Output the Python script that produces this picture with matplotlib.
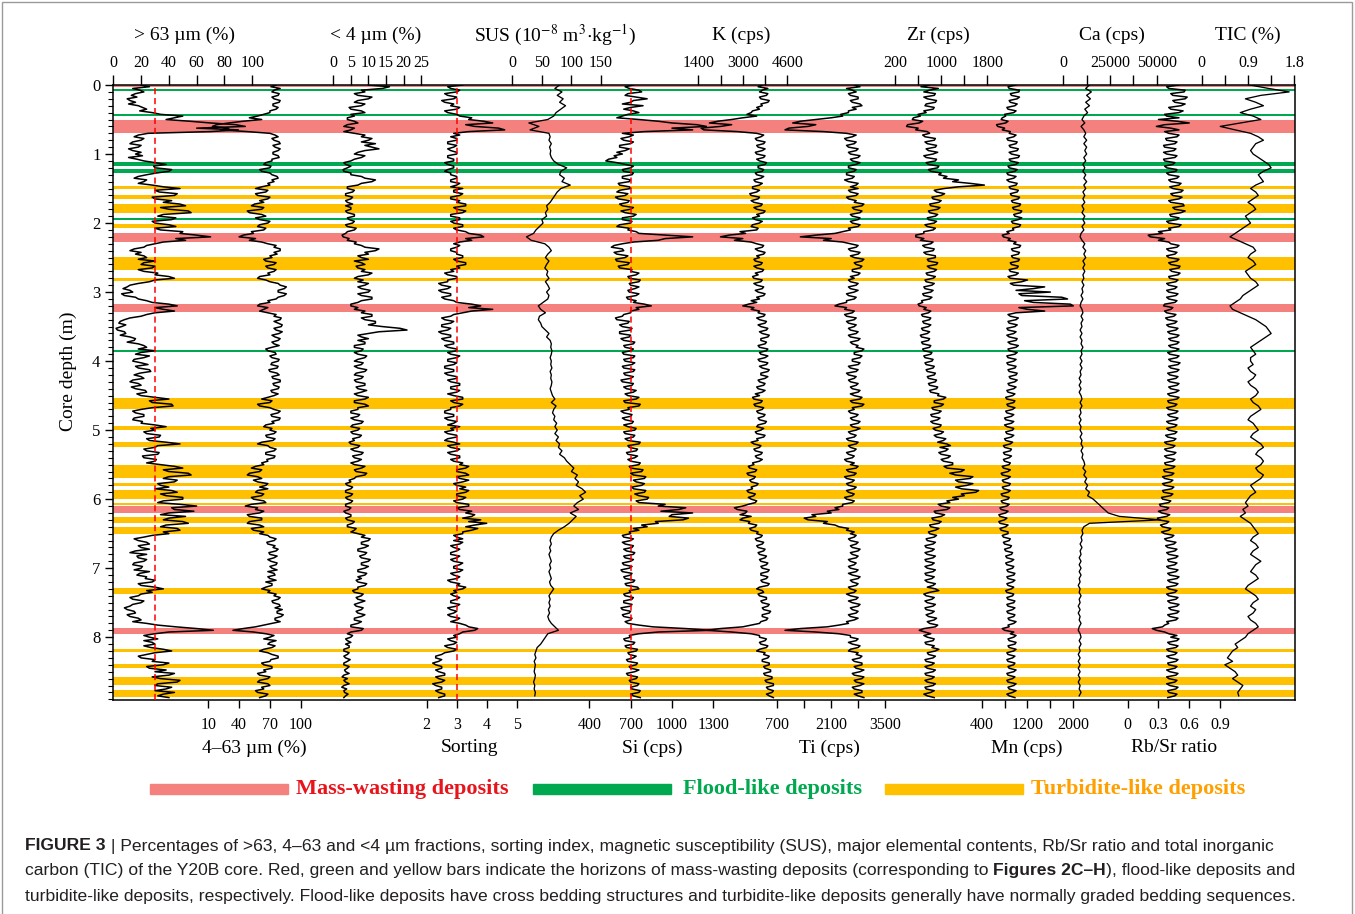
import numpy as np
import matplotlib.pyplot as plt
from matplotlib.patches import Rectangle
from matplotlib.ticker import MultipleLocator

plt.rcParams['font.family'] = ['Liberation Serif', 'DejaVu Serif']
plt.rcParams['mathtext.fontset'] = 'stix'

# core depth (m): XRF / grain-size every 2.5 cm, SUS / Ca / TIC every 5 cm
depth_fine = np.round(np.arange(356) * 0.025, 3)
depth_coarse = np.round(np.arange(178) * 0.05, 2)

sand_pct = [20, 26, 14, 19, 22, 16, 13, 17, 10, 12, 16, 11, 18, 21, 24, 19, 28, 34, 50, 44,
            38, 55, 70, 88, 95, 60, 90, 70, 25, 18, 15, 22, 20, 14, 12, 20, 18, 11, 14, 20,
            16, 21, 11, 17, 22, 30, 38, 29, 30, 42, 40, 31, 24, 18, 15, 24, 22, 18, 28, 36,
            48, 30, 33, 46, 44, 28, 30, 42, 36, 48, 52, 34, 40, 54, 56, 36, 32, 45, 42, 28,
            30, 40, 45, 30, 34, 50, 48, 60, 70, 45, 52, 36, 30, 24, 22, 15, 12, 20, 16, 22,
            24, 18, 30, 22, 20, 30, 28, 18, 22, 32, 30, 40, 44, 30, 26, 18, 12, 10, 7, 12,
            14, 6, 8, 16, 18, 24, 28, 40, 46, 30, 36, 44, 30, 24, 20, 12, 8, 5, 4, 9,
            6, 2, 3, 8, 9, 5, 12, 16, 15, 10, 18, 22, 24, 18, 30, 20, 16, 26, 22, 15,
            14, 20, 25, 16, 18, 26, 27, 19, 15, 20, 22, 14, 12, 18, 20, 13, 16, 23, 24, 17,
            20, 30, 40, 26, 28, 42, 43, 28, 20, 14, 16, 22, 22, 15, 14, 21, 20, 30, 38, 27,
            30, 22, 24, 34, 33, 24, 26, 38, 48, 32, 30, 22, 24, 33, 32, 21, 22, 31, 30, 24,
            34, 44, 50, 36, 40, 54, 56, 40, 36, 46, 44, 32, 34, 40, 30, 42, 46, 34, 38, 50,
            50, 36, 32, 48, 60, 42, 44, 58, 40, 34, 52, 40, 36, 50, 54, 38, 34, 46, 48, 36,
            40, 28, 22, 15, 18, 24, 26, 18, 20, 26, 16, 12, 24, 17, 18, 24, 22, 15, 14, 21,
            20, 15, 26, 19, 17, 24, 23, 30, 28, 18, 20, 30, 36, 24, 28, 20, 18, 12, 14, 22,
            20, 14, 12, 8, 10, 15, 16, 10, 12, 18, 20, 14, 24, 32, 45, 60, 72, 40, 30, 22,
            26, 32, 22, 28, 30, 22, 27, 36, 42, 30, 24, 18, 20, 30, 28, 40, 36, 24, 26, 38,
            30, 44, 40, 28, 34, 48, 46, 32, 30, 42, 38, 30, 44, 36, 32, 40]

silt_pct = [76, 71, 80, 74, 72, 79, 78, 72, 74, 80, 79, 73, 73, 78, 76, 70, 70, 64, 58, 50,
            62, 44, 30, 18, 14, 30, 22, 48, 70, 75, 78, 72, 74, 79, 80, 73, 75, 80, 78, 73,
            73, 78, 79, 72, 72, 66, 64, 71, 70, 60, 62, 70, 72, 77, 78, 72, 74, 68, 70, 62,
            56, 68, 66, 56, 58, 70, 68, 60, 64, 55, 52, 64, 62, 48, 50, 62, 66, 56, 60, 70,
            68, 60, 58, 66, 64, 52, 54, 44, 40, 56, 50, 62, 68, 76, 74, 80, 80, 74, 77, 70,
            72, 64, 66, 76, 74, 66, 68, 76, 74, 68, 70, 60, 58, 66, 70, 78, 80, 86, 84, 78,
            78, 86, 84, 78, 76, 68, 70, 60, 58, 68, 64, 60, 68, 76, 74, 81, 80, 74, 78, 82,
            81, 74, 76, 82, 79, 72, 75, 80, 78, 72, 74, 79, 72, 66, 68, 75, 76, 70, 72, 79,
            78, 72, 71, 78, 77, 69, 70, 77, 79, 72, 73, 80, 80, 73, 74, 79, 78, 71, 72, 78,
            74, 68, 62, 72, 70, 58, 60, 70, 74, 80, 78, 71, 72, 80, 79, 72, 74, 66, 64, 72,
            70, 76, 74, 66, 67, 75, 73, 62, 58, 68, 70, 76, 74, 66, 66, 75, 74, 67, 68, 62,
            64, 56, 52, 62, 60, 50, 48, 58, 62, 54, 58, 68, 66, 60, 68, 58, 56, 64, 62, 52,
            54, 64, 66, 52, 46, 58, 56, 64, 60, 48, 50, 62, 62, 50, 48, 60, 64, 52, 54, 64,
            60, 68, 70, 76, 74, 67, 68, 75, 73, 78, 76, 69, 70, 77, 74, 68, 71, 77, 76, 70,
            72, 77, 68, 74, 75, 68, 70, 76, 66, 72, 72, 66, 62, 70, 68, 76, 74, 80, 78, 72,
            73, 79, 80, 75, 82, 77, 77, 83, 81, 75, 75, 80, 72, 64, 56, 44, 34, 54, 66, 74,
            70, 64, 76, 70, 68, 75, 72, 64, 60, 68, 72, 78, 78, 71, 70, 62, 64, 72, 72, 64,
            66, 58, 60, 70, 68, 60, 58, 68, 70, 62, 64, 56, 58, 68, 66, 60]

clay_pct = [10, 16, 14, 8, 9, 6, 7, 11, 10, 7, 6, 9, 8, 4.5, 5, 8, 9, 5, 6, 4,
            4, 6, 7, 4, 3, 6, 5, 3, 6, 9, 8, 11, 10, 8, 12, 9, 11, 13, 9, 7,
            6, 9, 8, 6, 5, 3, 3.5, 5, 4, 2.8, 3, 5, 5, 8, 9, 12, 11, 8, 7, 4,
            4, 6, 5.5, 3.5, 3.5, 5.5, 5, 3.5, 4, 5.5, 3.5, 5, 5, 3.5, 4, 6, 6, 4, 4.5, 6,
            5.5, 3.5, 4, 6.5, 6, 4, 3.5, 2.5, 2.8, 4.5, 4, 6.5, 6, 8, 9, 13, 12, 9, 10, 7,
            8, 10, 6, 8, 9, 6.5, 7, 9, 8, 11, 10, 7, 6, 8.5, 7, 10, 9, 7, 8, 10.5,
            10, 7, 8, 11, 11, 8, 7, 5, 5, 7, 6, 9, 8, 11, 11, 8, 9, 12, 12, 10,
            14, 19, 21, 13, 10, 7, 8, 10, 7, 9, 9, 6, 6, 8.5, 8, 6, 7, 9.5, 9, 7,
            6, 8.5, 8, 6, 7, 9.5, 9, 6.5, 6, 8.5, 8, 6, 6.5, 9, 9, 6.5, 7, 9.5, 8, 6,
            7, 10, 9, 6, 6, 9, 10, 7, 7, 5, 5, 7.5, 7, 5, 6, 8.5, 8, 5.5, 5, 7.5,
            7, 5, 5.5, 8, 7.5, 5.5, 6, 4.5, 5, 7.5, 7, 5, 6, 8.5, 8, 5.5, 6, 8, 7, 5,
            6, 9, 8, 6, 6.5, 9.5, 9, 6.5, 6, 4.5, 5, 3.5, 4, 5.5, 5, 3.5, 3.5, 5.5, 5, 3.5,
            4, 5.5, 5, 3.5, 3.5, 5, 4.5, 3, 3.5, 5, 5, 3.5, 4, 6, 5.5, 4, 4, 6.5, 6, 5,
            7, 9, 8, 10.5, 10, 8, 8, 10, 9, 7, 7, 9.5, 9, 7.5, 8, 10.5, 10, 8, 8, 10,
            9, 7, 7, 9.5, 9, 7, 8, 6.5, 7, 9.5, 9, 7, 7, 5.5, 6, 8.5, 8, 6.5, 7, 9,
            7.5, 6, 6.5, 8.5, 8, 6.5, 7, 9, 8, 6, 6, 8, 7, 5, 5, 8.5, 8, 5, 4, 5.5,
            5, 3.5, 4, 5, 3.5, 4.5, 4.5, 3, 3, 4.5, 4, 3, 3.5, 4.8, 4, 3, 3, 4.5, 4, 3.2,
            3.5, 4.5, 3, 2.5, 4, 3, 3.5, 4.5, 3, 2.4, 3.8, 3, 3.2, 4.2, 3.5, 3]

sorting = [3.2, 2.7, 2.8, 3.1, 3.0, 2.6, 2.7, 3.0, 2.9, 2.5, 2.6, 2.9, 2.8, 3.1, 3.0, 2.6, 2.7, 3.0, 3.1, 3.5,
           3.4, 3.9, 4.2, 3.3, 3.6, 4.4, 4.6, 3.4, 2.9, 3.1, 2.8, 3.0, 3.0, 2.7, 2.7, 3.0, 2.9, 2.7, 2.8, 3.0,
           3.0, 2.7, 2.7, 2.9, 2.9, 2.6, 2.7, 2.9, 2.9, 2.7, 2.6, 2.8, 2.8, 3.0, 3.0, 2.8, 2.8, 3.1, 3.0, 2.8,
           3.2, 2.9, 2.9, 3.2, 3.1, 2.8, 2.8, 3.1, 3.0, 3.3, 3.3, 2.9, 3.0, 3.3, 3.2, 2.8, 2.8, 3.1, 3.1, 2.8,
           2.9, 3.2, 3.2, 2.9, 3.0, 3.3, 3.4, 3.8, 3.9, 3.3, 3.5, 3.1, 2.9, 3.1, 3.0, 2.8, 2.8, 3.0, 3.0, 3.2,
           3.2, 2.9, 3.0, 3.3, 3.3, 3.0, 3.1, 2.8, 2.9, 2.6, 2.7, 3.0, 3.0, 2.7, 2.7, 2.4, 2.5, 2.8, 2.7, 2.4,
           2.5, 2.8, 2.8, 2.5, 2.6, 2.9, 3.0, 3.5, 3.8, 3.4, 4.2, 3.5, 3.2, 2.9, 2.8, 2.5, 2.6, 2.9, 2.8, 2.5,
           2.5, 2.8, 2.7, 2.4, 2.5, 2.8, 2.8, 2.5, 2.6, 2.9, 2.9, 2.6, 2.7, 3.0, 3.0, 2.7, 2.8, 3.1, 3.0, 2.7,
           2.7, 3.0, 2.9, 2.6, 2.6, 2.9, 2.9, 2.6, 2.7, 3.0, 3.0, 2.7, 2.8, 3.1, 3.1, 2.8, 2.8, 3.1, 3.0, 2.7,
           2.9, 3.2, 3.2, 2.8, 2.9, 3.2, 3.1, 2.8, 2.8, 2.6, 2.6, 2.9, 2.9, 2.6, 2.7, 3.0, 2.9, 2.7, 3.1, 2.8,
           2.9, 2.6, 2.7, 3.0, 3.0, 2.7, 2.6, 2.9, 3.1, 2.7, 2.8, 3.1, 3.0, 2.7, 2.8, 3.1, 3.1, 2.8, 2.9, 3.2,
           3.1, 3.4, 3.3, 3.0, 3.0, 3.3, 3.4, 3.0, 3.1, 3.4, 3.2, 2.9, 3.0, 3.3, 3.1, 3.4, 3.3, 3.0, 3.0, 3.3,
           3.2, 2.9, 3.0, 3.4, 3.4, 3.0, 3.1, 3.5, 3.3, 3.6, 3.5, 3.2, 3.8, 3.4, 4.0, 3.6, 3.3, 3.7, 3.5, 3.2,
           3.2, 2.9, 3.0, 3.2, 2.9, 3.2, 3.1, 2.8, 2.9, 3.1, 3.0, 2.8, 2.8, 3.1, 3.0, 2.8, 2.9, 3.2, 3.1, 2.9,
           2.9, 3.2, 3.1, 2.8, 2.9, 3.1, 3.0, 2.7, 2.8, 3.1, 3.0, 3.3, 3.2, 2.9, 3.0, 2.8, 2.9, 3.1, 3.0, 2.8,
           2.8, 3.1, 3.0, 2.7, 2.8, 3.0, 2.9, 2.7, 2.8, 3.1, 3.0, 2.8, 3.1, 3.3, 3.4, 3.7, 3.6, 3.2, 3.1, 2.9,
           3.0, 2.7, 2.8, 3.0, 2.9, 2.6, 2.7, 3.0, 2.9, 2.6, 2.5, 2.3, 2.3, 2.5, 2.4, 2.2, 2.3, 2.5, 2.5, 2.3,
           2.4, 2.6, 2.6, 2.3, 2.4, 2.6, 2.5, 2.2, 2.3, 2.5, 2.5, 2.3, 2.4, 2.6, 2.6, 2.4]

sus = [80, 72, 84, 76, 86, 80, 90, 82, 74, 70,
       60, 28, 45, 30, 62, 64, 62, 66, 63, 65,
       64, 66, 70, 78, 92, 82, 80, 88, 84, 98,
       82, 76, 72, 68, 64, 58, 60, 56, 58, 50,
       52, 46, 40, 36, 24, 32, 55, 62, 66, 60,
       56, 62, 58, 55, 60, 58, 62, 56, 60, 63,
       58, 62, 60, 52, 44, 48, 56, 46, 44, 48,
       50, 56, 62, 58, 64, 66, 65, 67, 66, 64,
       66, 65, 67, 64, 66, 65, 67, 66, 64, 66,
       68, 72, 66, 74, 70, 68, 72, 70, 75, 72,
       76, 72, 78, 74, 80, 78, 84, 80, 88, 92,
       98, 104, 100, 110, 106, 112, 108, 118, 124, 114,
       120, 110, 104, 112, 98, 108, 102, 96, 88, 78,
       70, 66, 64, 66, 63, 65, 62, 64, 66, 63,
       65, 62, 64, 66, 63, 65, 70, 66, 62, 64,
       62, 64, 61, 63, 60, 62, 66, 72, 78, 60,
       56, 52, 48, 42, 40, 38, 40, 37, 39, 38,
       37, 39, 38, 36, 38, 37, 39, 38]

si_cps = [720, 660, 690, 760, 780, 680, 660, 740, 820, 720, 700, 640, 790, 700, 650, 720, 760, 680, 640, 600,
          760, 900, 1000, 1180, 1250, 1000, 1150, 800, 640, 720, 690, 630, 650, 720, 700, 620, 620, 690, 660, 600,
          640, 580, 600, 540, 520, 600, 660, 720, 700, 640, 650, 720, 710, 640, 640, 700, 690, 610, 620, 690,
          700, 620, 600, 680, 660, 590, 610, 690, 680, 620, 640, 720, 700, 630, 660, 740, 720, 640, 640, 710,
          700, 620, 600, 690, 680, 740, 760, 950, 1150, 950, 900, 720, 640, 580, 560, 640, 650, 580, 600, 680,
          660, 590, 600, 690, 680, 610, 620, 710, 700, 760, 740, 680, 690, 770, 760, 690, 700, 760, 730, 680,
          690, 760, 740, 670, 680, 740, 720, 800, 850, 740, 760, 700, 700, 650, 640, 590, 600, 690, 680, 620,
          640, 710, 700, 620, 620, 700, 690, 630, 650, 730, 720, 650, 660, 720, 700, 640, 650, 730, 720, 650,
          660, 730, 710, 640, 650, 730, 720, 650, 660, 720, 700, 630, 640, 720, 710, 650, 670, 740, 720, 660,
          680, 760, 740, 650, 660, 770, 760, 680, 690, 630, 650, 710, 700, 640, 660, 720, 710, 650, 680, 740,
          730, 650, 660, 730, 720, 660, 680, 770, 760, 680, 690, 750, 740, 670, 680, 750, 730, 680, 700, 770,
          760, 690, 700, 790, 780, 700, 720, 810, 800, 720, 740, 800, 780, 710, 720, 810, 800, 730, 760, 830,
          820, 740, 760, 950, 900, 1100, 1050, 920, 1150, 1000, 980, 1120, 1080, 880, 900, 780, 820, 720, 760, 690,
          700, 640, 650, 720, 700, 640, 660, 720, 710, 650, 670, 730, 720, 650, 660, 720, 700, 640, 650, 710,
          690, 630, 640, 710, 700, 650, 660, 730, 720, 660, 670, 750, 760, 690, 700, 650, 660, 720, 710, 650,
          650, 710, 700, 630, 640, 700, 690, 640, 650, 710, 700, 660, 680, 760, 860, 1100, 1280, 900, 760, 690,
          700, 650, 660, 730, 720, 660, 670, 750, 740, 680, 690, 740, 720, 670, 680, 750, 740, 690, 700, 760,
          730, 670, 680, 750, 740, 690, 700, 760, 750, 700, 710, 770, 760, 700, 720, 770]

k_cps = [3700, 3550, 3900, 3700, 3600, 3900, 3850, 3600, 3650, 3950, 3900, 3650, 3700, 3500, 3600, 3350, 3300, 3150, 3500, 3000,
         2600, 2100, 1800, 2600, 2200, 1500, 1600, 2800, 3500, 3750, 3650, 3450, 3500, 3800, 3750, 3500, 3550, 3800, 3700, 3450,
         3500, 3800, 3750, 3500, 3600, 3850, 3800, 3550, 3550, 3750, 3700, 3450, 3500, 3750, 3650, 3400, 3450, 3700, 3600, 3350,
         3350, 3600, 3500, 3250, 3300, 3600, 3550, 3300, 3400, 3700, 3650, 3400, 3500, 3800, 3750, 3500, 3600, 3350, 3450, 3700,
         3600, 3350, 3300, 3550, 3500, 2900, 3100, 2500, 2200, 3000, 2700, 3300, 3500, 3750, 3700, 3450, 3550, 3800, 3750, 3500,
         3600, 3400, 3450, 3700, 3650, 3400, 3500, 3750, 3700, 3450, 3550, 3350, 3400, 3700, 3650, 3400, 3500, 3750, 3700, 3450,
         3550, 3800, 3750, 3500, 3600, 3300, 3500, 3200, 3000, 3400, 3300, 3600, 3550, 3800, 3750, 3500, 3600, 3850, 3800, 3550,
         3650, 3900, 3850, 3600, 3700, 3950, 3900, 3650, 3650, 3850, 3800, 3550, 3600, 3900, 3850, 3600, 3650, 3900, 3800, 3550,
         3600, 3900, 3850, 3600, 3700, 3950, 3900, 3650, 3650, 3900, 3800, 3550, 3600, 3800, 3750, 3500, 3550, 3800, 3700, 3450,
         3600, 3350, 3400, 3700, 3650, 3400, 3450, 3750, 3700, 3500, 3550, 3800, 3750, 3550, 3600, 3850, 3800, 3550, 3500, 3750,
         3650, 3450, 3500, 3800, 3750, 3500, 3550, 3300, 3400, 3650, 3600, 3400, 3450, 3700, 3650, 3450, 3500, 3700, 3600, 3350,
         3400, 3200, 3250, 3500, 3450, 3150, 3200, 3450, 3400, 3250, 3300, 3550, 3500, 3300, 3350, 3150, 3200, 3450, 3400, 3200,
         3300, 3500, 3450, 3200, 3000, 2700, 2800, 3150, 3100, 2900, 3300, 3000, 2900, 3250, 3200, 3500, 3450, 3250, 3300, 3550,
         3500, 3700, 3650, 3450, 3500, 3750, 3700, 3500, 3550, 3800, 3750, 3550, 3600, 3850, 3800, 3600, 3650, 3900, 3850, 3650,
         3700, 3950, 3900, 3650, 3650, 3900, 3850, 3650, 3700, 3950, 3900, 3600, 3500, 3700, 3750, 3550, 3600, 3850, 3850, 3650,
         3700, 3950, 3900, 3700, 3750, 4000, 3950, 3700, 3700, 3900, 3850, 3650, 3600, 3300, 3000, 2200, 1700, 2600, 3300, 3600,
         3600, 3850, 3800, 3600, 3650, 3900, 3850, 3600, 3500, 3800, 3750, 3950, 3900, 3700, 3700, 3950, 3950, 3750, 3800, 4000,
         4000, 3750, 3800, 4050, 4050, 3800, 3850, 4100, 4100, 3850, 3900, 4100, 4050, 3850, 3950, 4100]

ti_cps = [2700, 2850, 2500, 2650, 2750, 2550, 2600, 2800, 2800, 2600, 2650, 2850, 2900, 2650, 2750, 2550, 2550, 2350, 2400, 2100,
          1700, 1300, 1100, 1700, 1500, 1000, 900, 1900, 2500, 2750, 2650, 2450, 2500, 2750, 2700, 2500, 2550, 2800, 2750, 2550,
          2600, 2850, 2800, 2600, 2650, 2850, 2750, 2550, 2550, 2750, 2700, 2500, 2500, 2700, 2650, 2450, 2550, 2800, 2750, 2600,
          2800, 2550, 2600, 2800, 2750, 2500, 2550, 2750, 2700, 2950, 2900, 2650, 2700, 2900, 2850, 2600, 2650, 2850, 2800, 2600,
          2650, 2850, 2800, 2550, 2600, 2400, 2200, 1700, 1300, 2100, 1900, 2400, 2600, 2800, 2750, 2550, 2600, 2850, 2800, 2600,
          2700, 2950, 2900, 2700, 2750, 2900, 2850, 2650, 2650, 2850, 2800, 2600, 2700, 2550, 2600, 2800, 2750, 2550, 2600, 2800,
          2700, 2500, 2550, 2750, 2700, 2500, 2500, 2300, 2200, 2500, 2450, 2700, 2650, 2450, 2500, 2750, 2700, 2500, 2550, 2750,
          2700, 2550, 2600, 2800, 2750, 2550, 2600, 2850, 2800, 2600, 2650, 2800, 2750, 2950, 2900, 2700, 2700, 2900, 2850, 2650,
          2650, 2850, 2800, 2550, 2600, 2800, 2750, 2500, 2550, 2750, 2700, 2550, 2600, 2800, 2750, 2600, 2650, 2850, 2800, 2600,
          2700, 2900, 2850, 2600, 2650, 2950, 2900, 2650, 2700, 2550, 2600, 2800, 2750, 2600, 2650, 2850, 2800, 2600, 2650, 2850,
          2750, 2550, 2600, 2750, 2700, 2500, 2550, 2800, 2750, 2550, 2600, 2750, 2700, 2500, 2550, 2700, 2650, 2450, 2500, 2700,
          2600, 2800, 2750, 2500, 2550, 2750, 2700, 2450, 2500, 2700, 2650, 2500, 2550, 2750, 2700, 2500, 2550, 2700, 2650, 2450,
          2500, 2700, 2650, 2400, 2400, 2200, 2300, 2000, 2100, 1600, 1700, 1400, 1500, 2000, 1900, 2200, 2300, 2550, 2500, 2700,
          2600, 2750, 2700, 2550, 2600, 2800, 2750, 2600, 2650, 2850, 2800, 2600, 2650, 2800, 2750, 2550, 2600, 2750, 2700, 2550,
          2600, 2800, 2750, 2550, 2650, 2850, 2800, 2600, 2650, 2800, 2750, 2550, 2600, 2750, 2700, 2500, 2600, 2800, 2750, 2550,
          2650, 2850, 2800, 2600, 2650, 2800, 2750, 2550, 2600, 2800, 2700, 2500, 2550, 2300, 2000, 1300, 900, 1700, 2300, 2600,
          2600, 2800, 2750, 2550, 2650, 2850, 2800, 2600, 2550, 2800, 2750, 2900, 2850, 2650, 2700, 2900, 2900, 2700, 2750, 2950,
          2850, 2650, 2700, 2950, 2900, 2700, 2750, 2950, 2850, 2650, 2700, 2900, 2900, 2700, 2800, 2950]

zr_cps = [800, 650, 950, 800, 700, 900, 880, 700, 760, 920, 900, 740, 720, 880, 860, 700, 740, 600, 640, 520,
          500, 680, 620, 420, 400, 600, 560, 760, 800, 680, 720, 900, 880, 720, 760, 920, 900, 740, 780, 940,
          860, 700, 740, 920, 900, 740, 780, 960, 940, 780, 820, 1000, 960, 1100, 1040, 1300, 1200, 1500, 1750, 1300,
          1050, 880, 920, 1060, 1000, 840, 860, 1000, 960, 800, 820, 980, 940, 780, 800, 940, 900, 760, 780, 920,
          880, 720, 760, 900, 860, 700, 700, 560, 560, 700, 640, 860, 820, 680, 720, 880, 860, 700, 740, 900,
          900, 760, 780, 940, 920, 760, 800, 920, 880, 740, 760, 900, 860, 720, 740, 880, 840, 700, 720, 860,
          820, 680, 700, 840, 800, 660, 680, 600, 620, 740, 700, 820, 780, 660, 680, 820, 800, 680, 700, 820,
          780, 660, 680, 800, 760, 640, 660, 800, 780, 660, 680, 820, 800, 680, 700, 840, 820, 700, 720, 860,
          840, 720, 740, 880, 860, 740, 760, 900, 880, 760, 780, 920, 900, 780, 800, 940, 920, 800, 820, 960,
          940, 1080, 1040, 880, 880, 1040, 1000, 840, 860, 1000, 960, 820, 840, 980, 940, 820, 860, 1000, 980, 860,
          900, 1040, 1000, 880, 920, 1080, 1040, 940, 1100, 1160, 980, 1120, 1080, 960, 1000, 1160, 1120, 1000, 1040, 1200,
          1200, 1050, 1100, 1400, 1350, 1150, 1250, 1550, 1500, 1250, 1300, 1550, 1450, 1250, 1350, 1650, 1600, 1350, 1400, 1200,
          1300, 1100, 1150, 950, 1000, 1150, 1100, 880, 900, 1060, 1000, 840, 860, 1000, 960, 800, 820, 960, 900, 780,
          800, 920, 880, 740, 760, 900, 860, 720, 740, 880, 840, 720, 760, 900, 860, 720, 740, 880, 840, 720,
          760, 900, 860, 720, 740, 880, 840, 720, 760, 900, 860, 760, 900, 960, 800, 700, 740, 880, 840, 720,
          760, 900, 860, 720, 740, 880, 840, 740, 780, 920, 880, 760, 800, 940, 900, 700, 620, 720, 820, 700,
          760, 880, 860, 720, 740, 880, 840, 960, 900, 760, 780, 900, 860, 720, 740, 880, 840, 720, 760, 900,
          860, 720, 740, 880, 840, 720, 760, 900, 860, 720, 740, 880, 820, 700, 760, 880]

mn_cps = [1000, 860, 880, 1060, 1050, 900, 920, 1060, 1020, 880, 900, 1020, 980, 840, 860, 1000, 960, 800, 820, 760,
          740, 860, 820, 660, 680, 800, 760, 900, 880, 1000, 960, 840, 860, 1020, 1000, 880, 900, 1040, 1020, 880,
          920, 1060, 1040, 880, 900, 1040, 1000, 860, 880, 1020, 980, 840, 860, 1000, 960, 840, 880, 1020, 1000, 880,
          900, 1040, 1020, 900, 920, 1060, 1040, 920, 940, 1080, 1060, 940, 960, 1100, 1080, 960, 980, 1100, 1040, 920,
          940, 1080, 1060, 940, 960, 840, 880, 760, 780, 900, 860, 1000, 960, 1080, 1060, 920, 940, 1060, 1040, 920,
          940, 1060, 1040, 900, 920, 1040, 1020, 880, 900, 1040, 1000, 860, 900, 1200, 1100, 900, 960, 1500, 1300, 1000,
          1600, 1050, 1100, 1800, 1900, 1150, 1300, 1950, 2000, 1050, 1200, 1500, 1000, 860, 900, 1040, 1000, 860, 880, 1020,
          980, 840, 860, 1000, 960, 840, 880, 1020, 1000, 860, 900, 1040, 1000, 860, 880, 1020, 980, 840, 860, 1000,
          960, 840, 860, 1000, 980, 860, 880, 1020, 1000, 880, 900, 1020, 980, 860, 880, 1000, 960, 840, 860, 980,
          940, 820, 840, 980, 960, 840, 860, 980, 940, 820, 840, 960, 920, 800, 820, 960, 920, 800, 840, 960,
          940, 820, 840, 960, 920, 800, 820, 940, 900, 780, 800, 920, 900, 780, 800, 920, 880, 780, 800, 900,
          880, 760, 780, 900, 860, 740, 760, 900, 860, 760, 780, 900, 880, 760, 780, 900, 860, 740, 760, 880,
          860, 740, 760, 880, 840, 720, 740, 860, 820, 700, 720, 840, 800, 700, 720, 860, 820, 720, 740, 860,
          860, 760, 780, 900, 880, 780, 800, 920, 900, 800, 820, 940, 920, 820, 840, 960, 920, 820, 840, 960,
          940, 840, 860, 980, 960, 840, 860, 980, 940, 840, 860, 960, 920, 820, 840, 960, 940, 840, 860, 980,
          960, 840, 860, 980, 940, 840, 860, 980, 960, 860, 880, 1000, 960, 860, 880, 760, 800, 960, 900, 1000,
          960, 860, 880, 1000, 980, 860, 880, 1000, 960, 840, 860, 980, 940, 840, 860, 980, 960, 860, 880, 1000,
          960, 840, 860, 980, 940, 840, 860, 1000, 960, 860, 880, 1000, 940, 840, 880, 980]

ca_cps = [14000, 12000, 15000, 12500, 14500, 12000, 14000, 11500, 13000, 11000,
          10000, 11500, 9500, 11000, 12000, 11000, 12500, 11000, 12500, 11500,
          12500, 11000, 12000, 10500, 11500, 10500, 12000, 11000, 12500, 11000,
          12000, 10500, 11500, 10500, 11500, 10000, 11000, 10000, 11500, 10500,
          11500, 10000, 11000, 9500, 9000, 10000, 11500, 10500, 12000, 11000,
          12000, 10500, 11500, 10500, 11500, 10500, 11000, 10000, 11000, 10000,
          10500, 9500, 10500, 9500, 9000, 10000, 10500, 9500, 10500, 9500,
          10000, 9000, 10000, 9000, 10000, 9500, 10500, 9500, 10000, 9000,
          10000, 9000, 10000, 9000, 9500, 8500, 9500, 8500, 9500, 8500,
          9500, 10000, 9000, 10000, 9000, 9500, 8500, 9500, 8500, 9500,
          9000, 10000, 9000, 10000, 9500, 10500, 9500, 10500, 10000, 11000,
          11500, 10500, 12000, 11000, 12500, 11500, 13000, 12000, 14000, 13000,
          16000, 18000, 20000, 22000, 24000, 30000, 52000, 14000, 11000, 10000,
          10500, 9500, 10000, 9000, 10000, 9000, 9500, 8500, 9500, 8500,
          9500, 8500, 9500, 8500, 9000, 8000, 9000, 8500, 9500, 8500,
          9000, 8000, 9000, 8000, 9000, 8500, 9500, 8500, 8000, 9000,
          9500, 8500, 9500, 8500, 9000, 8000, 9000, 8000, 9000, 8000,
          9000, 8000, 9000, 8000, 9000, 8500, 9500, 8500]

rb_sr = [0.50, 0.38, 0.40, 0.56, 0.55, 0.42, 0.44, 0.58, 0.56, 0.44, 0.46, 0.56, 0.52, 0.40, 0.42, 0.54, 0.50, 0.36, 0.38, 0.50,
         0.30, 0.48, 0.60, 0.36, 0.28, 0.42, 0.50, 0.36, 0.40, 0.50, 0.48, 0.37, 0.38, 0.48, 0.46, 0.35, 0.36, 0.47, 0.45, 0.35,
         0.38, 0.48, 0.46, 0.35, 0.36, 0.46, 0.44, 0.36, 0.38, 0.48, 0.47, 0.38, 0.40, 0.50, 0.48, 0.40, 0.42, 0.52, 0.50, 0.41,
         0.44, 0.54, 0.52, 0.42, 0.44, 0.53, 0.50, 0.40, 0.42, 0.54, 0.55, 0.44, 0.46, 0.56, 0.52, 0.41, 0.42, 0.50, 0.48, 0.38,
         0.40, 0.52, 0.50, 0.40, 0.42, 0.30, 0.34, 0.20, 0.22, 0.36, 0.30, 0.40, 0.42, 0.50, 0.48, 0.38, 0.40, 0.48, 0.46, 0.38,
         0.40, 0.50, 0.48, 0.40, 0.42, 0.51, 0.50, 0.41, 0.43, 0.51, 0.49, 0.40, 0.41, 0.49, 0.47, 0.38, 0.40, 0.48, 0.46, 0.38,
         0.40, 0.49, 0.47, 0.38, 0.40, 0.48, 0.46, 0.36, 0.35, 0.44, 0.42, 0.36, 0.38, 0.47, 0.45, 0.37, 0.39, 0.48, 0.46, 0.38,
         0.40, 0.49, 0.47, 0.39, 0.41, 0.50, 0.48, 0.40, 0.42, 0.50, 0.48, 0.40, 0.42, 0.50, 0.47, 0.39, 0.41, 0.50, 0.48, 0.40,
         0.42, 0.51, 0.49, 0.40, 0.42, 0.50, 0.48, 0.39, 0.41, 0.49, 0.47, 0.39, 0.41, 0.50, 0.48, 0.40, 0.42, 0.50, 0.47, 0.39,
         0.41, 0.50, 0.48, 0.39, 0.40, 0.48, 0.46, 0.38, 0.40, 0.49, 0.47, 0.39, 0.41, 0.49, 0.47, 0.38, 0.40, 0.48, 0.46, 0.38,
         0.40, 0.48, 0.46, 0.37, 0.39, 0.47, 0.45, 0.36, 0.38, 0.46, 0.44, 0.36, 0.38, 0.47, 0.45, 0.36, 0.38, 0.46, 0.44, 0.36,
         0.37, 0.46, 0.44, 0.35, 0.36, 0.45, 0.43, 0.34, 0.36, 0.44, 0.42, 0.34, 0.36, 0.45, 0.43, 0.34, 0.35, 0.44, 0.42, 0.33,
         0.34, 0.42, 0.40, 0.31, 0.32, 0.40, 0.38, 0.30, 0.33, 0.41, 0.38, 0.29, 0.30, 0.40, 0.38, 0.32, 0.34, 0.42, 0.40, 0.33,
         0.36, 0.45, 0.43, 0.36, 0.38, 0.47, 0.45, 0.37, 0.39, 0.48, 0.46, 0.38, 0.40, 0.49, 0.47, 0.39, 0.40, 0.48, 0.46, 0.38,
         0.40, 0.49, 0.47, 0.39, 0.41, 0.50, 0.48, 0.39, 0.41, 0.49, 0.47, 0.38, 0.40, 0.48, 0.46, 0.38, 0.40, 0.49, 0.47, 0.39,
         0.41, 0.50, 0.48, 0.40, 0.42, 0.50, 0.48, 0.39, 0.41, 0.49, 0.47, 0.38, 0.40, 0.36, 0.34, 0.24, 0.28, 0.36, 0.40, 0.48,
         0.42, 0.50, 0.48, 0.39, 0.41, 0.49, 0.47, 0.38, 0.40, 0.48, 0.46, 0.38, 0.41, 0.49, 0.47, 0.39, 0.40, 0.48, 0.46, 0.38,
         0.41, 0.49, 0.47, 0.38, 0.40, 0.48, 0.46, 0.38, 0.41, 0.49, 0.47, 0.39, 0.40, 0.48, 0.46, 0.39]

tic_pct = [0.94, 1.30, 1.70, 1.15, 0.85, 1.05, 1.20, 0.95, 0.75, 1.00,
           1.15, 0.75, 0.36, 0.65, 0.95, 1.10, 1.20, 1.05, 1.00, 0.95,
           1.00, 1.10, 1.20, 1.30, 1.35, 1.20, 1.10, 1.15, 1.20, 1.05,
           0.95, 1.05, 1.10, 1.00, 0.90, 1.00, 1.05, 0.95, 0.85, 0.90,
           0.95, 0.85, 0.75, 0.65, 0.55, 0.70, 0.85, 1.00, 1.05, 0.95,
           0.90, 1.00, 1.05, 0.95, 0.85, 0.90, 0.95, 1.05, 1.10, 1.00,
           0.90, 0.80, 0.75, 0.65, 0.55, 0.60, 0.75, 0.90, 1.05, 1.15,
           1.25, 1.30, 1.35, 1.25, 1.15, 1.05, 0.95, 1.00, 1.05, 0.95,
           0.95, 1.00, 0.90, 0.95, 1.05, 1.00, 0.90, 0.95, 1.05, 1.10,
           1.05, 0.95, 1.00, 1.10, 1.15, 1.05, 0.95, 0.90, 1.00, 1.05,
           1.10, 1.00, 0.95, 1.05, 1.15, 1.20, 1.10, 1.05, 1.15, 1.20,
           1.15, 1.05, 1.10, 1.20, 1.15, 1.05, 0.95, 1.00, 1.05, 0.95,
           0.90, 0.85, 0.90, 0.80, 0.85, 0.75, 0.85, 0.95, 1.00, 1.05,
           1.10, 1.00, 0.95, 1.05, 1.10, 1.00, 0.95, 1.05, 1.15, 1.05,
           1.00, 0.95, 1.05, 1.10, 1.00, 0.90, 0.85, 0.95, 1.05, 1.10,
           1.00, 0.95, 1.05, 1.00, 0.90, 0.95, 1.05, 1.10, 1.00, 0.90,
           0.85, 0.75, 0.65, 0.70, 0.60, 0.55, 0.50, 0.60, 0.45, 0.55,
           0.65, 0.70, 0.60, 0.70, 0.80, 0.75, 0.70, 0.72]

# deposit horizons (top, base) in m
mass_wasting = [(0.00, 0.03), (0.50, 0.69), (2.15, 2.28), (3.17, 3.29),
                (6.10, 6.20), (7.86, 7.95)]
flood_like = [(0.06, 0.09), (0.42, 0.45), (1.12, 1.17), (1.22, 1.28),
              (1.92, 1.96), (3.84, 3.87)]
turbidite_like = [(1.46, 1.51), (1.60, 1.65), (1.72, 1.86), (2.01, 2.07),
                  (2.49, 2.68), (2.80, 2.84), (4.53, 4.69), (4.94, 5.00),
                  (5.17, 5.24), (5.51, 5.70), (5.76, 5.81), (5.87, 6.00),
                  (6.05, 6.08), (6.26, 6.35), (6.41, 6.51), (7.29, 7.38),
                  (8.17, 8.22), (8.39, 8.44), (8.58, 8.69), (8.76, 8.86)]

RED, GREEN, YELLOW = '#f4817e', '#00a84f', '#ffc000'

W, H = 1355, 914
fig = plt.figure(figsize=(W / 100, H / 100), dpi=100)
L, R, T, B = 113, 1295, 85, 700
ax = fig.add_axes([L / W, 1 - B / H, (R - L) / W, (B - T) / H])

for spans, col in ((turbidite_like, YELLOW), (flood_like, GREEN), (mass_wasting, RED)):
    for d0, d1 in spans:
        ax.axhspan(d0, d1, color=col, lw=0, zorder=0)

ax.set_xticks([])
ax.set_yticks(range(9))
ax.yaxis.set_minor_locator(MultipleLocator(0.1))
ax.tick_params(axis='y', which='major', length=6, width=1, labelsize=12, pad=3)
ax.tick_params(axis='y', which='minor', length=3.5, width=0.8)
for s in ax.spines.values():
    s.set_linewidth(1.1)


def add_track(vals, dep, xlim, ticks, labels, side, ref=None, lw=1.1):
    tw = ax.twiny()
    tw.plot(vals, dep, color='black', lw=lw, zorder=3)
    if ref is not None:
        tw.axvline(ref, color='red', lw=1.1, ls=(0, (4, 2.5)), zorder=4)
    tw.set_xlim(*xlim)
    for s in tw.spines.values():
        s.set_visible(False)
    tw.set_xticks(ticks)
    tw.set_xticklabels(labels)
    if side == 'top':
        tw.xaxis.set_ticks_position('top')
        tw.tick_params(axis='x', length=7, width=1, pad=3, labelsize=11.5)
    else:
        tw.xaxis.set_ticks_position('bottom')
        tw.tick_params(axis='x', length=6, width=1, pad=6, labelsize=11.5)
    return tw


add_track(sand_pct, depth_fine, (-0.2, 850.1), [0, 20, 40, 60, 80, 100],
          ['0', '20', '40', '60', '80', '100'], 'top', ref=30)
add_track(clay_pct, depth_fine, (-62.8, 274.1), [0, 5, 10, 15, 20, 25],
          ['0', '5', '10', '15', '20', '25'], 'top')
add_track(sus, depth_coarse, (-675.3, 1323.7), [0, 50, 100, 150],
          ['0', '50', '100', '150'], 'top', lw=0.95)
add_track(k_cps, depth_fine, (-19644, 22854), [1400, 2200, 3000, 3800, 4600],
          ['1400', '', '3000', '', '4600'], 'top')
add_track(zr_cps, depth_fine, (-13356, 7134), [200, 600, 1000, 1400, 1800],
          ['200', '', '1000', '', '1800'], 'top')
add_track(ca_cps, depth_coarse, (-508726, 124036), [0, 12500, 25000, 37500, 50000],
          ['0', '', '25000', '', '50000'], 'top', lw=0.95)
add_track(tic_pct, depth_coarse, (-21.164, 1.8137), [0, 0.45, 0.9, 1.35, 1.8],
          ['0', '', '0.9', '', '1.8'], 'top', lw=0.95)

add_track(silt_pct, depth_fine, (-82.82, 1068.4), [10, 40, 70, 100],
          ['10', '40', '70', '100'], 'bottom')
add_track(sorting, depth_fine, (-8.457, 30.943), [2, 3, 4, 5],
          ['2', '3', '4', '5'], 'bottom', ref=3)
add_track(si_cps, depth_fine, (-3057, 5522), [400, 700, 1000, 1300],
          ['400', '700', '1000', '1300'], 'bottom', ref=700)
add_track(ti_cps, depth_fine, (-16571, 14159), [700, 1400, 2100, 2800, 3500],
          ['700', '', '2100', '', '3500'], 'bottom')
add_track(mn_cps, depth_fine, (-14774, 5873), [400, 800, 1200, 1600, 2000],
          ['400', '', '1200', '', '2000'], 'bottom')
add_track(rb_sr, depth_fine, (-9.894, 1.6313), [0, 0.3, 0.6, 0.9],
          ['0', '0.3', '0.6', '0.9'], 'bottom')

ax.set_ylim(8.91, 0)

# track titles
top_titles = [('> 63 µm (%)', 184), ('< 4 µm (%)', 376),
              (r'SUS (10$^{-8}$ m$^{3}$$\cdot$kg$^{-1}$)', 555),
              ('K (cps)', 741), ('Zr (cps)', 938), ('Ca (cps)', 1112), ('TIC (%)', 1248)]
bottom_titles = [('4–63 µm (%)', 254), ('Sorting', 470), ('Si (cps)', 652),
                 ('Ti (cps)', 829), ('Mn (cps)', 1027), ('Rb/Sr ratio', 1174)]
for txt, x in top_titles:
    fig.text(x / W, 1 - 35 / H, txt, ha='center', va='center', fontsize=14)
for txt, x in bottom_titles:
    fig.text(x / W, 1 - 748 / H, txt, ha='center', va='center', fontsize=14)
fig.text(68 / W, 1 - 371 / H, 'Core depth (m)', rotation=90, ha='center',
         va='center', fontsize=14)

# legend row
legend_items = [('Mass-wasting deposits', RED, '#e8141c', 150, 296),
                ('Flood-like deposits', GREEN, '#00a84f', 533, 683),
                ('Turbidite-like deposits', YELLOW, '#ffa000', 885, 1031)]
for label, bar_col, txt_col, x0, xt in legend_items:
    fig.patches.append(Rectangle((x0 / W, 1 - 794 / H), 138 / W, 10 / H,
                                 transform=fig.transFigure, color=bar_col))
    fig.text(xt / W, 1 - 789 / H, label, color=txt_col, fontsize=16,
             fontweight='bold', va='center', ha='left')

# outer frame
fig.patches.append(Rectangle((2 / W, -0.01), 1350 / W, 1 - 2 / H + 0.01,
                             transform=fig.transFigure, fill=False,
                             ec='#9a9a9a', lw=1))

# caption with bold pieces
renderer = fig.canvas.get_renderer()
cap_lines = [
    [('FIGURE 3', True), (' | Percentages of >63, 4–63 and <4 µm fractions, sorting index, '
                          'magnetic susceptibility (SUS), major elemental contents, Rb/Sr ratio '
                          'and total inorganic', False)],
    [('carbon (TIC) of the Y20B core. Red, green and yellow bars indicate the horizons of '
      'mass-wasting deposits (corresponding to ', False), ('Figures 2C–H', True),
     ('), flood-like deposits and', False)],
    [('turbidite-like deposits, respectively. Flood-like deposits have cross bedding '
      'structures and turbidite-like deposits generally have normally graded bedding '
      'sequences.', False)],
]
for i, parts in enumerate(cap_lines):
    x = 25 / W
    y = 1 - (846 + 25 * i) / H
    for s, bold in parts:
        t = fig.text(x, y, s, fontsize=12.6, family='Liberation Sans',
                     fontweight='bold' if bold else 'normal', color='#231f20',
                     va='center', ha='left')
        bb = t.get_window_extent(renderer=renderer)
        x = bb.x1 / W

fig.savefig('out.png', dpi=100)
